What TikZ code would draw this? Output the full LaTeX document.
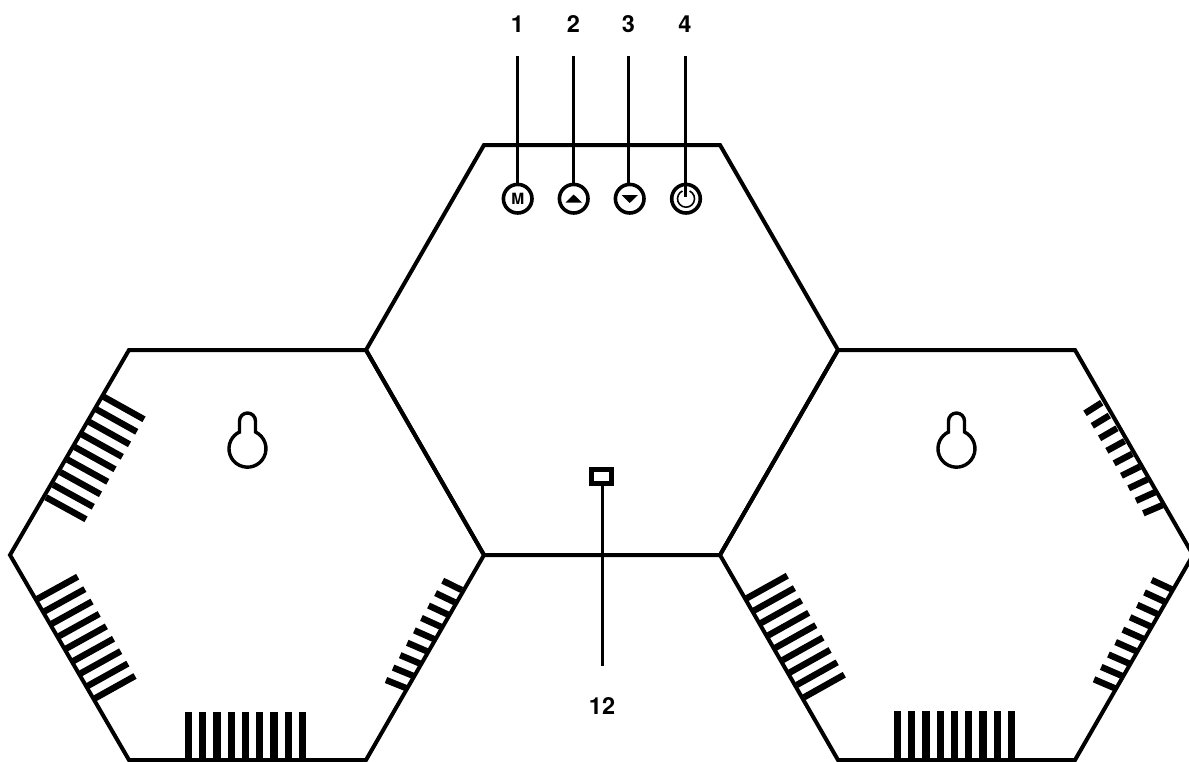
\documentclass[tikz,border=0pt]{standalone}
\usepackage{fontspec}
\setmainfont{TeX Gyre Heros}
\usetikzlibrary{calc}
\tikzset{
  wall/.style={line width=4pt,line join=miter,black},
  slat/.style={line width=6.4pt,black},
  barslat/.style={line width=7.4pt,black},
  leader/.style={line width=2.6pt,black},
  keyhole/.style={line width=3.4pt,black},
  btn/.style={circle,draw=black,line width=3.6pt,minimum size=28.6pt,inner sep=0pt,fill=white},
  numlabel/.style={font=\fontsize{23.5}{23.5}\selectfont\bfseries,text=black,inner sep=0pt},
  tri/.style={fill=black,draw=none}
}
\newcommand{\ventrow}[8]{%
  \foreach \i in {0,...,8}{
    \draw[slat] ($(#1,#2)!\i/8!(#3,#4)$) -- ($(#5,#6)!\i/8!(#7,#8)$);
  }}
\newcommand{\keyshape}[1]{%
  \begin{scope}[shift={(#1,0)}]
    \draw[keyhole] (-8,432) -- (-8,421) arc[start angle=180,end angle=0,radius=8pt] -- (8,432)
      arc[start angle=64.3,end angle=-244.3,radius=18.5pt] -- cycle;
  \end{scope}}
\begin{document}
\begin{tikzpicture}[x=1pt,y=-1pt]
\useasboundingbox (0,0) rectangle (1189,761);
\clip (0,0) rectangle (1189,761);
% hexagons
\draw[wall] (484,145) -- (720,145) -- (838,350) -- (720,555) -- (484,555) -- (366,350) -- cycle;
\draw[wall] (129,350) -- (366,350) -- (484,555) -- (366,760) -- (129,760) -- (10,555) -- cycle;
\draw[wall] (838,350) -- (1075,350) -- (1193,555) -- (1075,760) -- (838,760) -- (720,555) -- cycle;
% slats left hexagon
\ventrow{103.5}{396.7}{46}{497.3}{144}{419.3}{86}{519.3}
\ventrow{36.7}{599.3}{95}{698.3}{77.7}{576.7}{135}{676}
\ventrow{461.7}{590}{406.7}{688.3}{442.7}{580.7}{386}{680}
\foreach \i in {0,...,8}{
  \draw[barslat] ({188.5+\i*14.25},712) -- ({188.5+\i*14.25},760);
  \draw[barslat] ({897.5+\i*14.25},711) -- ({897.5+\i*14.25},760);
}
% slats right hexagon
\ventrow{746.7}{598.3}{804}{697.3}{787.3}{575.7}{844.3}{674.7}
\ventrow{1101.7}{402.7}{1162.7}{505}{1085}{413.3}{1143.3}{513.3}
\ventrow{1171.7}{589.3}{1115}{688.3}{1151.7}{580}{1094}{679.3}
% keyholes
\keyshape{247.5}
\keyshape{956.5}
% buttons
\node[btn,font=\fontsize{15.5}{15.5}\selectfont\bfseries] (bm) at (517.7,198.7) {M};
\node[btn] (bu) at (573.7,198.7) {};
\node[btn] (bd) at (629.7,198.7) {};
\node[btn] (bp) at (686,198.7) {};
\fill[tri] (565.5,202.5) -- (582,202.5) -- (573.7,194.5) -- cycle;
\fill[tri] (621.5,195) -- (638,195) -- (629.7,203) -- cycle;
\draw[line width=1.6pt] ($(bp.center)+(3.6,-7.7)$) arc[start angle=65,end angle=-245,radius=8.5pt];
% labels and leaders
\node[numlabel] (n1) at (517.5,24) {1};
\node[numlabel] (n2) at (573.5,24) {2};
\node[numlabel] (n3) at (628.5,24) {3};
\node[numlabel] (n4) at (685,24) {4};
\coordinate (c1) at (517.5,56);
\coordinate (c2) at (573.5,56);
\coordinate (c3) at (628.5,56);
\coordinate (c4) at (685.5,56);
\draw[leader] (c1) -- (517.5,186);
\draw[leader] (c2) -- (573.5,186);
\draw[leader] (c3) -- (628.5,186);
\draw[leader] (c4) -- (685.5,197);
% sensor
\node[draw=black,line width=4.5pt,fill=white,minimum width=20pt,minimum height=14pt,inner sep=0pt] (sensor) at (601.7,476.5) {};
\coordinate (c12) at (602.3,666);
\draw[leader] (sensor.south -| c12) -- (c12);
\node[numlabel] (n12) at (602,706) {12};
\end{tikzpicture}
\end{document}
